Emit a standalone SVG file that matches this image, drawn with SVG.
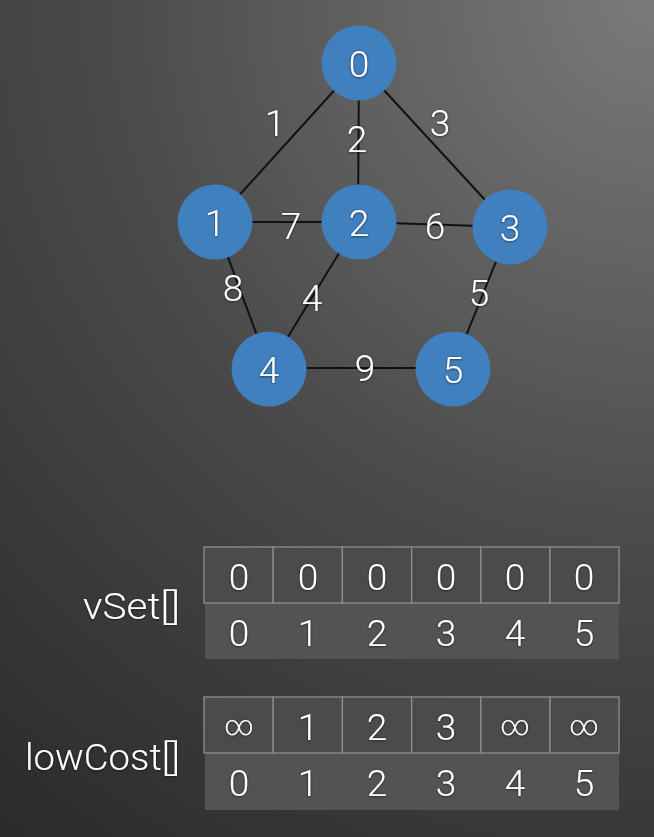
<svg xmlns="http://www.w3.org/2000/svg" width="654" height="837" viewBox="0 0 654 837">
<defs>
<radialGradient id="bg" gradientUnits="userSpaceOnUse" cx="654" cy="0" r="1100">
<stop offset="0" stop-color="#7a7a7a"/>
<stop offset="0.5" stop-color="#4a4a4a"/>
<stop offset="1" stop-color="#282828"/>
</radialGradient>
<filter id="sh" x="-20%" y="-20%" width="140%" height="140%">
<feDropShadow dx="0" dy="0.5" stdDeviation="0.9" flood-color="#000" flood-opacity="0.7"/>
</filter>
</defs>
<style>
.node{fill:#4080bf}
.edge{stroke:#111;stroke-width:2;fill:none}
.t{font-family:Roboto,"Liberation Sans",sans-serif;font-weight:300;fill:#fff;text-anchor:middle;font-size:37px;filter:url(#sh)}
.lab{font-family:Roboto,"Liberation Sans",sans-serif;font-weight:300;fill:#fff;text-anchor:start;font-size:37px;filter:url(#sh)}
.cell{fill:#4b4b4b;stroke:#8e8e8e;stroke-width:1.3}
.idx{fill:#535353}
.inf{font-size:28px}
</style>
<rect width="654" height="837" fill="url(#bg)"/>
<g id="edges">
<line class="edge" x1="359" y1="63" x2="215" y2="222"/>
<line class="edge" x1="359" y1="63" x2="358" y2="222"/>
<line class="edge" x1="359" y1="63" x2="510" y2="227"/>
<line class="edge" x1="215" y1="222" x2="358" y2="222"/>
<line class="edge" x1="358" y1="222" x2="510" y2="227"/>
<line class="edge" x1="215" y1="222" x2="269" y2="368"/>
<line class="edge" x1="358" y1="222" x2="269" y2="368"/>
<line class="edge" x1="510" y1="227" x2="453" y2="368"/>
<line class="edge" x1="269" y1="368" x2="453" y2="368"/>
</g>
<g id="edge-labels">
<text class="t" x="275" y="136">1</text>
<text class="t" x="357" y="152">2</text>
<text class="t" x="440" y="136">3</text>
<text class="t" x="291" y="239">7</text>
<text class="t" x="435" y="239">6</text>
<text class="t" x="233" y="301">8</text>
<text class="t" x="312" y="311">4</text>
<text class="t" x="479" y="306">5</text>
<text class="t" x="365" y="381">9</text>
</g>
<g id="node0"><circle class="node" cx="359" cy="63" r="37.5"/><text class="t" x="359" y="76.5">0</text></g>
<g id="node1"><circle class="node" cx="215" cy="222" r="37.5"/><text class="t" x="215" y="235.5">1</text></g>
<g id="node2"><circle class="node" cx="359" cy="222" r="37.5"/><text class="t" x="359" y="235.5">2</text></g>
<g id="node3"><circle class="node" cx="510" cy="227" r="37.5"/><text class="t" x="510" y="240.5">3</text></g>
<g id="node4"><circle class="node" cx="269" cy="369" r="37.5"/><text class="t" x="269" y="382.5">4</text></g>
<g id="node5"><circle class="node" cx="453" cy="369" r="37.5"/><text class="t" x="453" y="382.5">5</text></g>
<g id="vSet">
<text class="lab" x="83" y="619" textLength="97" lengthAdjust="spacingAndGlyphs">vSet[]</text>
<rect class="idx" x="205" y="603" width="414" height="56"/>
<rect class="cell" x="204" y="547" width="69.2" height="56"/>
<rect class="cell" x="273.2" y="547" width="69.2" height="56"/>
<rect class="cell" x="342.4" y="547" width="69.2" height="56"/>
<rect class="cell" x="411.6" y="547" width="69.2" height="56"/>
<rect class="cell" x="480.8" y="547" width="69.2" height="56"/>
<rect class="cell" x="550" y="547" width="69" height="56"/>
<text class="t" x="239" y="590">0</text>
<text class="t" x="308" y="590">0</text>
<text class="t" x="377" y="590">0</text>
<text class="t" x="446" y="590">0</text>
<text class="t" x="515" y="590">0</text>
<text class="t" x="584" y="590">0</text>
<text class="t" x="239" y="646">0</text>
<text class="t" x="308" y="646">1</text>
<text class="t" x="377" y="646">2</text>
<text class="t" x="446" y="646">3</text>
<text class="t" x="515" y="646">4</text>
<text class="t" x="584" y="646">5</text>
</g>
<g id="lowCost">
<text class="lab" x="25" y="770" textLength="155" lengthAdjust="spacingAndGlyphs">lowCost[]</text>
<rect class="idx" x="205" y="753" width="414" height="57"/>
<rect class="cell" x="204" y="697" width="69.2" height="56"/>
<rect class="cell" x="273.2" y="697" width="69.2" height="56"/>
<rect class="cell" x="342.4" y="697" width="69.2" height="56"/>
<rect class="cell" x="411.6" y="697" width="69.2" height="56"/>
<rect class="cell" x="480.8" y="697" width="69.2" height="56"/>
<rect class="cell" x="550" y="697" width="69" height="56"/>
<text class="t inf" x="239" y="735">∞</text>
<text class="t" x="308" y="740">1</text>
<text class="t" x="377" y="740">2</text>
<text class="t" x="446" y="740">3</text>
<text class="t inf" x="515" y="735">∞</text>
<text class="t inf" x="584" y="735">∞</text>
<text class="t" x="239" y="796">0</text>
<text class="t" x="308" y="796">1</text>
<text class="t" x="377" y="796">2</text>
<text class="t" x="446" y="796">3</text>
<text class="t" x="515" y="796">4</text>
<text class="t" x="584" y="796">5</text>
</g>
</svg>
